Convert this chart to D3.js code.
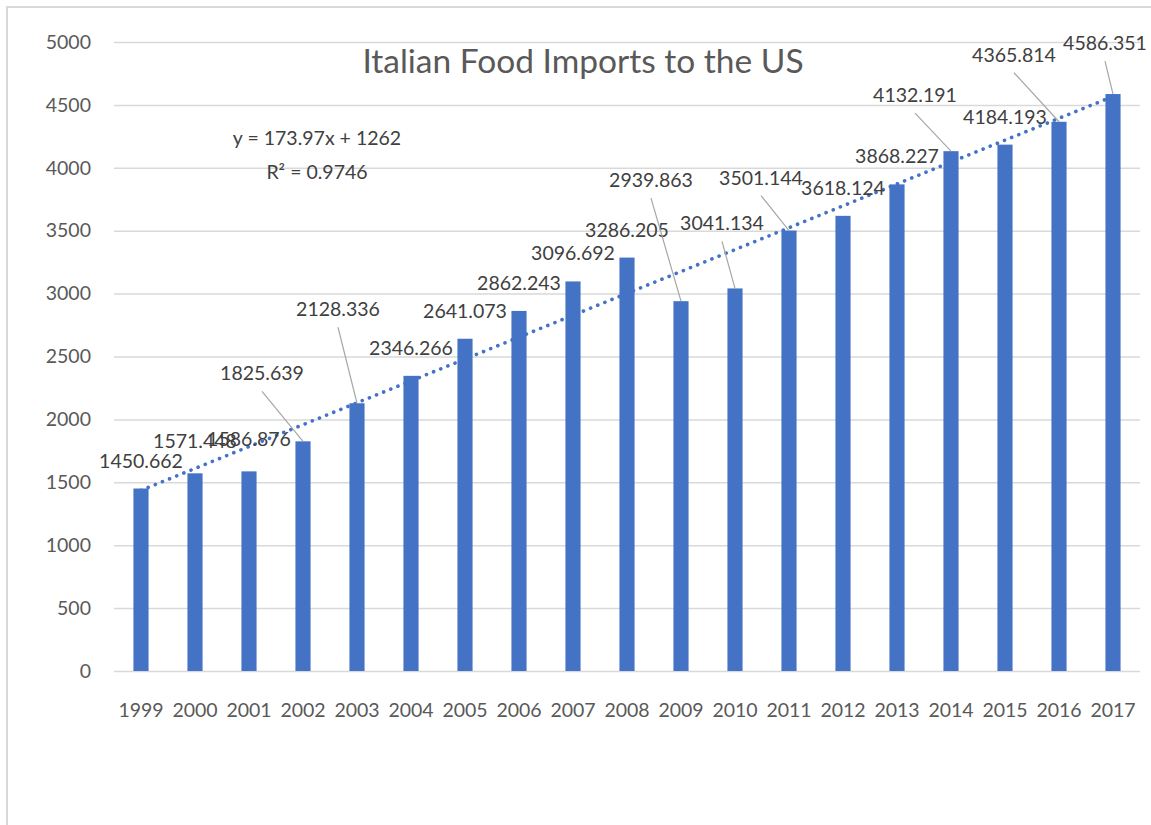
<!DOCTYPE html>
<html>
<head>
<meta charset="utf-8">
<script src="https://cdn.jsdelivr.net/npm/d3@7"></script>
<style>
  html, body { margin: 0; padding: 0; background: #fff; }
  svg { display: block; font-family: Lato, "Open Sans", sans-serif; }
</style>
</head>
<body>
<svg id="chart" width="1151" height="825"></svg>
<script>
// Italian food imports to the US, 1999–2017
const years = ["1999","2000","2001","2002","2003","2004","2005","2006","2007","2008",
               "2009","2010","2011","2012","2013","2014","2015","2016","2017"];
const imports = [1450.662, 1571.448, 1586.876, 1825.639, 2128.336, 2346.266, 2641.073,
                 2862.243, 3096.692, 3286.205, 2939.863, 3041.134, 3501.144, 3618.124,
                 3868.227, 4132.191, 4184.193, 4365.814, 4586.351];
const yTicks = [0, 500, 1000, 1500, 2000, 2500, 3000, 3500, 4000, 4500, 5000];

// Linear trendline (x = 1..n) and its fit quality
const trendSlope = 173.97;
const trendIntercept = 1262;
const trendR2 = 0.9746;
const titleText = "Italian Food Imports to the US";

// Hand-placed offsets (px) for labels pulled away from their bars
const labelNudge = {
  "2000": [0, -4], "2001": [0, -4],
  "2002": [-41, -40], "2003": [-19, -66],
  "2009": [-30, -93], "2010": [-13, -37], "2011": [-28, -25],
  "2014": [-36, -28], "2016": [-45, -39], "2017": [-8, -23]
};

const svg = d3.select("#chart");
const plot = { left: 114, right: 1140, top: 42, bottom: 671 };

const x = d3.scaleBand().domain(years).range([plot.left, plot.right])
  .paddingInner(0.72).paddingOuter(0.36);
const y = d3.scaleLinear().domain([0, 5000]).range([plot.bottom, plot.top]);

// Outer frame (top and left edges)
svg.append("path")
  .attr("d", "M7,825 L7,7 L1151,7")
  .attr("fill", "none").attr("stroke", "#d9d9d9").attr("stroke-width", 2);

// Horizontal gridlines + value axis labels
const yAxis = d3.axisLeft(y).tickValues(yTicks).tickSize(-(plot.right - plot.left))
  .tickPadding(23).tickFormat(d3.format("d"));
const gy = svg.append("g").attr("transform", `translate(${plot.left},0)`).call(yAxis);
gy.select(".domain").remove();
gy.selectAll(".tick line").attr("stroke", "#d9d9d9").attr("stroke-width", 1.5);
gy.selectAll(".tick text").attr("fill", "#595959").attr("font-size", 19.5)
  .attr("font-family", "Lato, sans-serif");

// Category axis labels
const xAxis = d3.axisBottom(x).tickSize(0).tickPadding(32);
const gx = svg.append("g").attr("transform", `translate(0,${plot.bottom})`).call(xAxis);
gx.select(".domain").remove();
gx.selectAll(".tick text").attr("fill", "#595959").attr("font-size", 19.5)
  .attr("font-family", "Lato, sans-serif");

// Bars
const cx = d => x(d) + x.bandwidth() / 2;
svg.append("g").selectAll("rect").data(years).join("rect")
  .attr("x", d => x(d)).attr("width", x.bandwidth())
  .attr("y", (d, i) => y(imports[i]))
  .attr("height", (d, i) => y(0) - y(imports[i]))
  .attr("fill", "#4472C4");

// Dotted linear trendline from the first to the last category
const trendEnds = [0, years.length - 1];
const trend = d3.line()
  .x(i => cx(years[i]))
  .y(i => y(trendSlope * (i + 1) + trendIntercept));
svg.append("path")
  .attr("d", trend(trendEnds))
  .attr("fill", "none")
  .attr("stroke", "#4472C4").attr("stroke-width", 3.6)
  .attr("stroke-linecap", "round").attr("stroke-dasharray", "0.1 7.6");

// Data labels with leader lines for displaced ones
const fmt = d3.format(".3f");
const labels = svg.append("g");
years.forEach((d, i) => {
  const top = y(imports[i]);
  const [dx, dy] = labelNudge[d] || [0, 0];
  const lx = cx(d) + dx;
  const ly = top - 21 + dy;
  if (Math.abs(dx) > 5 || dy < -15) {
    labels.append("line")
      .attr("x1", lx).attr("y1", ly + 11)
      .attr("x2", cx(d)).attr("y2", top)
      .attr("stroke", "#a6a6a6").attr("stroke-width", 1.2);
  }
  labels.append("text")
    .attr("x", lx).attr("y", ly)
    .attr("text-anchor", "middle")
    .attr("font-size", 19.5).attr("fill", "#404040")
    .text(fmt(imports[i]));
});

// Trendline equation
svg.append("text").attr("x", 317).attr("y", 145).attr("text-anchor", "middle")
  .attr("font-size", 19.5).attr("fill", "#404040")
  .text(`y = ${trendSlope}x + ${trendIntercept}`);
svg.append("text").attr("x", 317).attr("y", 179).attr("text-anchor", "middle")
  .attr("font-size", 19.5).attr("fill", "#404040")
  .text(`R² = ${trendR2}`);

// Chart title
svg.append("text").attr("x", 583).attr("y", 73).attr("text-anchor", "middle")
  .attr("font-size", 33.5).attr("fill", "#595959")
  .text(titleText);
</script>
</body>
</html>
